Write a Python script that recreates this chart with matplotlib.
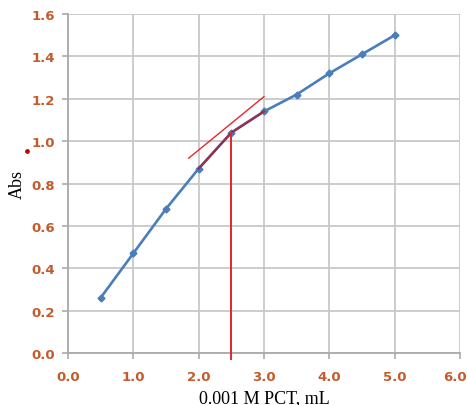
import matplotlib.pyplot as plt
import matplotlib.transforms as mtransforms

# titration data
vol = [0.5, 1.0, 1.5, 2.0, 2.5, 3.0, 3.5, 4.0, 4.5, 5.0]
absb = [0.26, 0.47, 0.68, 0.87, 1.04, 1.14, 1.22, 1.32, 1.41, 1.50]

# tangent lines
tan1_x = [1.85, 3.0]
tan1_y = [0.92, 1.21]
tan2_x = [2.0, 2.5, 3.0]
tan2_y = [0.87, 1.04, 1.14]
eq_x = [2.5, 2.5]
eq_y = [1.04, -0.03]

xticks = [0, 1, 2, 3, 4, 5, 6]
yticks = [0.0, 0.2, 0.4, 0.6, 0.8, 1.0, 1.2, 1.4, 1.6]
tick_color = '#C55A2B'

fig = plt.figure(figsize=(4.68, 4.06), dpi=100)
ax = fig.add_axes([0.145, 0.128, 0.838, 0.835])

ax.plot(vol, absb, color='#4A7EBB', lw=1.9, marker='D', ms=3.5, zorder=3)
ax.plot(tan2_x, tan2_y, color='#9B2D4A', lw=1.6, zorder=4)
ax.plot(tan1_x, tan1_y, color='#E8262E', lw=1.0, zorder=5)
ax.plot(eq_x, eq_y, color='#E0262E', lw=1.4, zorder=5, clip_on=False)

ax.set_xlim(0, 6)
ax.set_ylim(0, 1.6)
ax.set_xticks(xticks)
ax.set_xticklabels(['%.1f' % v for v in xticks])
ax.set_yticks(yticks)
ax.set_yticklabels(['%.1f' % v for v in yticks])
ax.grid(True, color='#C8C8C8', lw=1.3)
ax.set_axisbelow(True)
for s in ['top', 'right']:
    ax.spines[s].set_visible(False)
for s in ['left', 'bottom']:
    ax.spines[s].set_color('#AAAAAA')
    ax.spines[s].set_linewidth(1.3)
ax.tick_params(colors='#AAAAAA', length=4, width=1.2, labelcolor=tick_color, pad=5)
ax.tick_params(axis='x', pad=8)
for lab in ax.get_xticklabels() + ax.get_yticklabels():
    lab.set_fontweight('bold')
    lab.set_fontsize(9.5)
    lab.set_family('DejaVu Sans')
# last x label sits a bit left so it stays inside the picture
last = ax.get_xticklabels()[-1]
last.set_transform(last.get_transform() +
                   mtransforms.ScaledTranslation(-0.05, 0, fig.dpi_scale_trans))

ax.set_xlabel('0.001 M PCT, mL', family='Liberation Serif', fontsize=13)
ax.xaxis.label.set_va('center')
ax.xaxis.set_label_coords(0.5, -0.13)
ax.set_ylabel('Abs', family='Liberation Serif', fontsize=13)
ax.yaxis.label.set_va('center')
ax.yaxis.set_label_coords(-0.128, 0.5)
# small red dot next to the y label
ax.plot([27 / 468], [1 - 152 / 406], transform=fig.transFigure, marker='o',
        ms=2.4, color='#C00000', clip_on=False)

fig.savefig('out.png', dpi=100)
